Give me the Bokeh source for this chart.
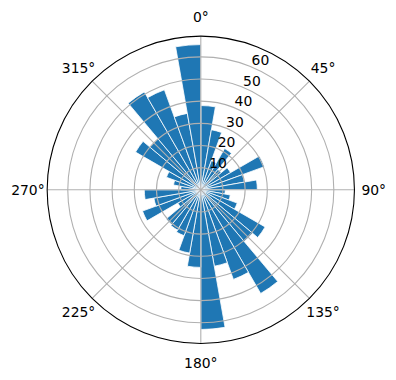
import numpy as np
from bokeh.plotting import figure
from bokeh.models import Range1d
from bokeh.core.properties import value
from bokeh.embed import file_html
from bokeh.resources import INLINE

# bar data: 36 bins of 10 degrees, compass angles (0 at top, clockwise)
bin_start_deg = list(range(0, 360, 10))
bin_width_deg = 10
radii = [38, 27.5, 14, 21.5, 12, 15.5, 30.5, 20, 25.5,
         11, 13.5, 17.5, 33.5, 30.5, 54, 43, 35, 63,
         35, 29, 22, 21, 20.5, 12, 28, 21.5, 25.5,
         9, 12.5, 16.5, 34, 30, 51, 48, 35, 65.5]

r_ticks = [10, 20, 30, 40, 50, 60]
r_tick_labels = ["10", "20", "30", "40", "50", "60"]
theta_ticks = [0, 45, 90, 135, 180, 225, 270, 315]
theta_tick_labels = ["0°", "45°", "90°", "135°", "180°", "225°", "270°", "315°"]
r_max = 69.3
r_label_angle = 22.5
theta_label_r = 78.0

W, H = 396, 380
cx, cy = 200.3, 189.3
s = 2.217  # px per unit

p = figure(width=W, height=H, output_backend="svg", toolbar_location=None,
           x_range=Range1d(-cx / s, (W - cx) / s),
           y_range=Range1d(-(H - cy) / s, cy / s),
           min_border=0)
p.axis.visible = False
p.grid.visible = False
p.outline_line_color = None
p.background_fill_color = "white"
p.border_fill_color = "white"

starts = np.array(bin_start_deg, dtype=float)
p.wedge(x=0, y=0, radius=radii,
        start_angle=90 - (starts + bin_width_deg), end_angle=90 - starts,
        start_angle_units="deg", end_angle_units="deg", direction="anticlock",
        fill_color="#1f77b4", line_color="white", line_width=0.8)

# grid rings
p.circle(x=[0] * len(r_ticks), y=[0] * len(r_ticks), radius=r_ticks,
         fill_color=None, line_color="#b0b0b0", line_width=1.1)
# radial grid lines
th = np.radians(theta_ticks)
p.segment(x0=0, y0=0, x1=r_max * np.sin(th), y1=r_max * np.cos(th),
          line_color="#b0b0b0", line_width=1.1)
# outer spine
p.circle(x=[0], y=[0], radius=[r_max], fill_color=None,
         line_color="black", line_width=1.1)

# theta labels
p.text(x=theta_label_r * np.sin(th), y=theta_label_r * np.cos(th),
       text=theta_tick_labels, text_align="center", text_baseline="middle",
       text_font=value("DejaVu Sans"), text_font_size="13.9px", text_color="black")

# radial labels
ra = np.radians(r_label_angle)
rt = np.array(r_ticks, dtype=float)
p.text(x=rt * np.sin(ra), y=rt * np.cos(ra), text=r_tick_labels,
       text_align="center", text_baseline="middle", x_offset=8.7, y_offset=-6.8,
       text_font=value("DejaVu Sans"), text_font_size="13.9px", text_color="black")

open("out.html", "w").write(file_html(p, INLINE))
